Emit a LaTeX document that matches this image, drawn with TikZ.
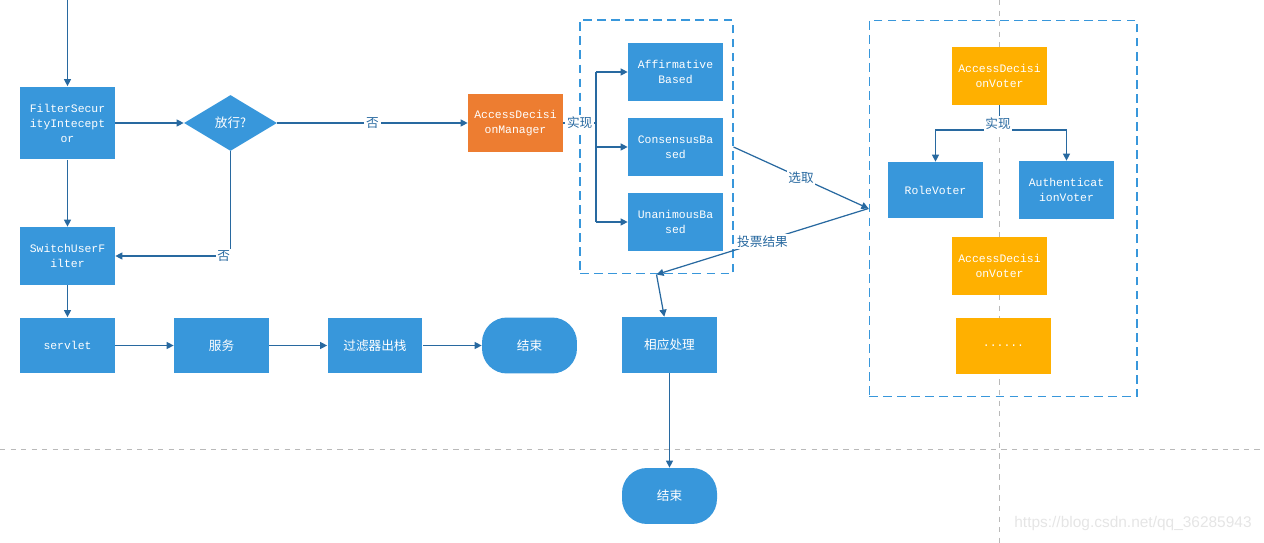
\documentclass[tikz,border=0pt]{standalone}
\usepackage{fontspec}
\setmainfont{Noto Sans CJK SC}
\setmonofont{Liberation Mono}
\newfontfamily\wmfont{Liberation Sans}
\usetikzlibrary{shapes.geometric,arrows.meta}

\definecolor{boxblue}{RGB}{56,151,219}
\definecolor{lineblue}{RGB}{40,105,160}
\definecolor{mgrorange}{RGB}{237,125,49}
\definecolor{voteryellow}{RGB}{255,176,0}
\definecolor{guidegray}{RGB}{185,185,185}

\tikzset{
  blkbox/.style={rectangle,fill=boxblue,text=white,align=center,
    minimum width=1.9cm,minimum height=1.16cm,inner sep=1pt},
  codebox/.style={blkbox,font=\ttfamily\fontsize{6.5}{8.5}\selectfont},
  cnbox/.style={blkbox,font=\fontsize{7.2}{9}\selectfont},
  flow/.style={draw=lineblue,line width=0.7pt},
  arr/.style={flow,-{Triangle[length=4pt,width=4pt]}},
  lbl/.style={fill=white,text=lineblue,inner sep=1pt,font=\fontsize{7.2}{9}\selectfont},
  group/.style={draw=boxblue,dashed,dash pattern=on 5pt off 3pt,line width=0.6pt}
}

\begin{document}
\begin{tikzpicture}[x=0.02cm,y=-0.02cm]
\useasboundingbox (0,0) rectangle (1264,543);

% page guides
\draw[guidegray,dashed,line width=0.5pt] (0,449) -- (1264,449);
\draw[guidegray,dashed,line width=0.5pt] (999,0) -- (999,543);

% dashed groups
\node[group,minimum width=3.06cm,minimum height=5.08cm] (grpA) at (656.5,147)   {};
\node[group,minimum width=5.36cm,minimum height=7.54cm] (grpB) at (1003,208.5)  {};

\coordinate (top) at (67.5,0);

% filter chain
\node[codebox,minimum height=1.46cm] (fsi)  at (67.5,123)   {FilterSecur\\ityIntecept\\or};
\node[codebox]                       (suf)  at (67.5,256)   {SwitchUserF\\ilter};
\node[codebox,minimum height=1.12cm] (srv)  at (67.5,345.5) {servlet};
\node[cnbox,minimum height=1.12cm]   (svc)  at (221.5,345.5) {服务};
\node[cnbox,minimum height=1.12cm]   (pop)  at (375,345.5)  {过滤器出栈};
\node[cnbox,minimum height=1.12cm,rounded corners=0.5cm] (endA) at (529.5,345.5) {结束};

\node[shape=diamond,fill=boxblue,text=white,aspect=1.66,inner sep=0pt,
      minimum width=1.86cm,minimum height=1.12cm,
      font=\fontsize{7.2}{9}\selectfont] (gate) at (230.5,123) {放行?};

% decision manager
\node[codebox,fill=mgrorange,minimum height=1.18cm] (adm) at (515.5,123) {AccessDecisi\\onManager};
\node[codebox] (aff) at (675.5,72)  {Affirmative\\Based};
\node[codebox] (con) at (675.5,147) {ConsensusBa\\sed};
\node[codebox] (una) at (675.5,222) {UnanimousBa\\sed};

% voters
\node[codebox,fill=voteryellow] (voter)  at (999.5,76)  {AccessDecisi\\onVoter};
\node[codebox,minimum height=1.12cm] (role) at (935.5,190) {RoleVoter};
\node[codebox] (auth)  at (1066.5,190) {Authenticat\\ionVoter};
\node[codebox,fill=voteryellow] (voterB) at (999.5,266) {AccessDecisi\\onVoter};
\node[codebox,fill=voteryellow,minimum height=1.12cm] (more) at (1003.5,346) {......};

% result
\node[cnbox,minimum height=1.12cm] (deal) at (669.5,345) {相应处理};
\node[cnbox,minimum height=1.12cm,rounded corners=0.5cm] (endB) at (669.5,496) {结束};

% connectors
\draw[arr] (top) -- (fsi);
\draw[arr] (fsi) -- (gate);
\draw[arr] (gate) -- node[lbl] {否} (adm);
\draw[arr] (fsi) -- (suf);
\draw[arr] (gate.south) |- node[lbl,pos=0.53] {否} (suf);
\draw[arr] (suf) -- (srv);
\draw[arr] (srv) -- (svc);
\draw[arr] (svc) -- (pop);
\draw[arr] (pop) -- (endA);

\coordinate (split) at (596,123);
\draw[flow] (adm) -- node[lbl] {实现} (split);
\draw[flow] (split |- aff) -- (split |- una);
\foreach \n in {aff,con,una}
  \draw[arr] (split |- \n) -- (\n);

\draw[arr] (grpA.east |- con) -- node[lbl] {选取} (grpB.west);
\draw[arr] (grpB.west) -- node[lbl] {投票结果} (grpA.south);
\draw[arr] (grpA.south) -- (deal);
\draw[arr] (deal) -- (endB);

\coordinate (vsplit) at (999.5,130);
\draw[flow] (voter) -- (vsplit);
\draw[arr] (vsplit) -| (role);
\draw[arr] (vsplit) -| (auth);
\node[lbl] (impl) at (998,124) {实现};

% watermark
\node[text=black!10,font=\wmfont\fontsize{8.8}{10}\selectfont] (mark) at (1133,524) {https://blog.csdn.net/qq\_36285943};

\end{tikzpicture}
\end{document}
